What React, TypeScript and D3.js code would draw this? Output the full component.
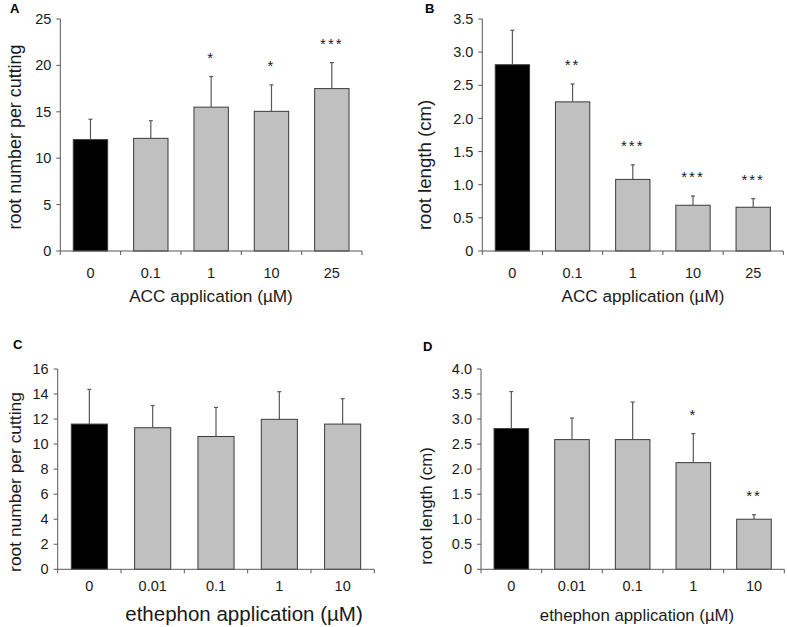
import React from 'react';
import * as d3 from 'd3';

// doses on the x axis
const accDoses = ['0', '0.1', '1', '10', '25'];
const ethDoses = ['0', '0.01', '0.1', '1', '10'];

// A: root number per cutting, ACC
const accRootNumber = [12.0, 12.14, 15.5, 15.05, 17.5];
const accRootNumberSd = [2.2, 1.9, 3.3, 2.85, 2.8];
const accRootNumberSig = ['', '', '*', '*', '***'];

// B: root length, ACC
const accRootLength = [2.81, 2.25, 1.08, 0.69, 0.66];
const accRootLengthSd = [0.52, 0.27, 0.22, 0.14, 0.13];
const accRootLengthSig = ['', '**', '***', '***', '***'];

// C: root number per cutting, ethephon
const ethRootNumber = [11.6, 11.31, 10.61, 11.98, 11.6];
const ethRootNumberSd = [2.77, 1.77, 2.32, 2.21, 2.03];
const ethRootNumberSig = ['', '', '', '', ''];

// D: root length, ethephon
const ethRootLength = [2.81, 2.59, 2.59, 2.13, 1.0];
const ethRootLengthSd = [0.74, 0.43, 0.75, 0.58, 0.09];
const ethRootLengthSig = ['', '', '', '*', '**'];

const yTicksNumberA = [0, 5, 10, 15, 20, 25];
const yTicksLength = [0, 0.5, 1, 1.5, 2, 2.5, 3, 3.5];
const yTicksNumberC = [0, 2, 4, 6, 8, 10, 12, 14, 16];
const yTicksLengthD = [0, 0.5, 1, 1.5, 2, 2.5, 3, 3.5, 4];

const FONT = '"Liberation Sans", Arial, sans-serif';
const AXIS = '#595959';
const TEXT = '#1a1a1a';

type PanelProps = {
  letter: string;
  letterPos: [number, number];
  doses: string[];
  values: number[];
  sd: number[];
  sig: string[];
  ticks: number[];
  fmt: (v: number) => string;
  x0: number;
  x1: number;
  yTop: number;
  yBottom: number;
  yTitle: string;
  yTitlePos: [number, number];
  yTitleSize: number;
  xTitle: string;
  xTitlePos: [number, number];
  xTitleSize: number;
  xTickBaseline: number;
};

const Panel = (p: PanelProps) => {
  const x = d3
    .scaleBand<string>()
    .domain(p.doses)
    .range([p.x0, p.x1])
    .paddingInner(0.43)
    .paddingOuter(0.215);
  const y = d3
    .scaleLinear()
    .domain([0, p.ticks[p.ticks.length - 1]])
    .range([p.yBottom, p.yTop]);
  const step = x.step();
  const bw = x.bandwidth();

  return (
    <g fontFamily={FONT}>
      <text x={p.letterPos[0]} y={p.letterPos[1]} fontSize={13} fontWeight="bold" fill="#000">
        {p.letter}
      </text>

      {/* bars */}
      {p.values.map((v, i) => {
        const bx = x(p.doses[i]) as number;
        return (
          <rect
            key={'b' + i}
            x={bx}
            y={y(v)}
            width={bw}
            height={y(0) - y(v)}
            fill={i === 0 ? '#000' : '#c0c0c0'}
            stroke="#3a3a3a"
            strokeWidth={1}
          />
        );
      })}

      {/* error bars */}
      {p.values.map((v, i) => {
        const cx = (x(p.doses[i]) as number) + bw / 2;
        const top = y(v + p.sd[i]);
        return (
          <g key={'e' + i} stroke={AXIS} strokeWidth={1.2}>
            <line x1={cx} x2={cx} y1={y(v)} y2={top} />
            <line x1={cx - 2} x2={cx + 2} y1={top} y2={top} />
          </g>
        );
      })}

      {/* significance stars */}
      {p.sig.map((s, i) =>
        s ? (
          <text
            key={'s' + i}
            x={(x(p.doses[i]) as number) + bw / 2}
            y={y(p.values[i] + p.sd[i]) - 14}
            textAnchor="middle"
            fontSize={15}
            letterSpacing={2}
            fill={TEXT}
          >
            {s}
          </text>
        ) : null
      )}

      {/* y axis */}
      <line x1={p.x0} x2={p.x0} y1={p.yTop} y2={p.yBottom} stroke={AXIS} />
      {p.ticks.map((t) => (
        <g key={'yt' + t}>
          <line x1={p.x0 - 4} x2={p.x0} y1={y(t)} y2={y(t)} stroke={AXIS} />
          <text
            x={p.x0 - 9}
            y={y(t)}
            dy="0.35em"
            textAnchor="end"
            fontSize={14.5}
            fill={TEXT}
          >
            {p.fmt(t)}
          </text>
        </g>
      ))}

      {/* x axis */}
      <line x1={p.x0} x2={p.x1} y1={p.yBottom} y2={p.yBottom} stroke={AXIS} />
      {d3.range(p.doses.length + 1).map((k) => (
        <line
          key={'xt' + k}
          x1={p.x0 + k * step}
          x2={p.x0 + k * step}
          y1={p.yBottom}
          y2={p.yBottom + 4}
          stroke={AXIS}
        />
      ))}
      {p.doses.map((d) => (
        <text
          key={'xl' + d}
          x={(x(d) as number) + bw / 2}
          y={p.xTickBaseline}
          textAnchor="middle"
          fontSize={14.5}
          fill={TEXT}
        >
          {d}
        </text>
      ))}

      <text
        x={p.xTitlePos[0]}
        y={p.xTitlePos[1]}
        textAnchor="middle"
        fontSize={p.xTitleSize}
        fill={TEXT}
      >
        {p.xTitle}
      </text>
      <text
        transform={`translate(${p.yTitlePos[0]},${p.yTitlePos[1]}) rotate(-90)`}
        textAnchor="middle"
        dy="0.35em"
        fontSize={p.yTitleSize}
        fill={TEXT}
      >
        {p.yTitle}
      </text>
    </g>
  );
};

const fmtInt = (v: number) => String(v);
const fmtDec = (v: number) => (v === 0 ? '0' : v.toFixed(1));

export default function App() {
  return (
    <svg
      width={787}
      height={627}
      style={{ position: 'absolute', left: 0, top: 0, background: '#fff' }}
    >
      <Panel
        letter="A"
        letterPos={[10, 13]}
        doses={accDoses}
        values={accRootNumber}
        sd={accRootNumberSd}
        sig={accRootNumberSig}
        ticks={yTicksNumberA}
        fmt={fmtInt}
        x0={60.3}
        x1={362}
        yTop={19}
        yBottom={251}
        yTitle="root number per cutting"
        yTitlePos={[15, 137]}
        yTitleSize={17.9}
        xTitle="ACC application (µM)"
        xTitlePos={[211, 302]}
        xTitleSize={17.2}
        xTickBaseline={278}
      />
      <Panel
        letter="B"
        letterPos={[425, 13]}
        doses={accDoses}
        values={accRootLength}
        sd={accRootLengthSd}
        sig={accRootLengthSig}
        ticks={yTicksLength}
        fmt={fmtDec}
        x0={482.3}
        x1={783.3}
        yTop={19}
        yBottom={251}
        yTitle="root length (cm)"
        yTitlePos={[424, 165]}
        yTitleSize={18.6}
        xTitle="ACC application (µM)"
        xTitlePos={[643, 302]}
        xTitleSize={17.1}
        xTickBaseline={278}
      />
      <Panel
        letter="C"
        letterPos={[13, 349]}
        doses={ethDoses}
        values={ethRootNumber}
        sd={ethRootNumberSd}
        sig={ethRootNumberSig}
        ticks={yTicksNumberC}
        fmt={fmtInt}
        x0={57.7}
        x1={374.3}
        yTop={369}
        yBottom={569.3}
        yTitle="root number per cutting"
        yTitlePos={[15, 482]}
        yTitleSize={17.4}
        xTitle="ethephon application (µM)"
        xTitlePos={[244, 621]}
        xTitleSize={20.5}
        xTickBaseline={591}
      />
      <Panel
        letter="D"
        letterPos={[423, 351]}
        doses={ethDoses}
        values={ethRootLength}
        sd={ethRootLengthSd}
        sig={ethRootLengthSig}
        ticks={yTicksLengthD}
        fmt={fmtDec}
        x0={481}
        x1={784.3}
        yTop={369}
        yBottom={569.3}
        yTitle="root length (cm)"
        yTitlePos={[426, 506]}
        yTitleSize={16.8}
        xTitle="ethephon application (µM)"
        xTitlePos={[637, 621]}
        xTitleSize={16.8}
        xTickBaseline={591}
      />
    </svg>
  );
}
